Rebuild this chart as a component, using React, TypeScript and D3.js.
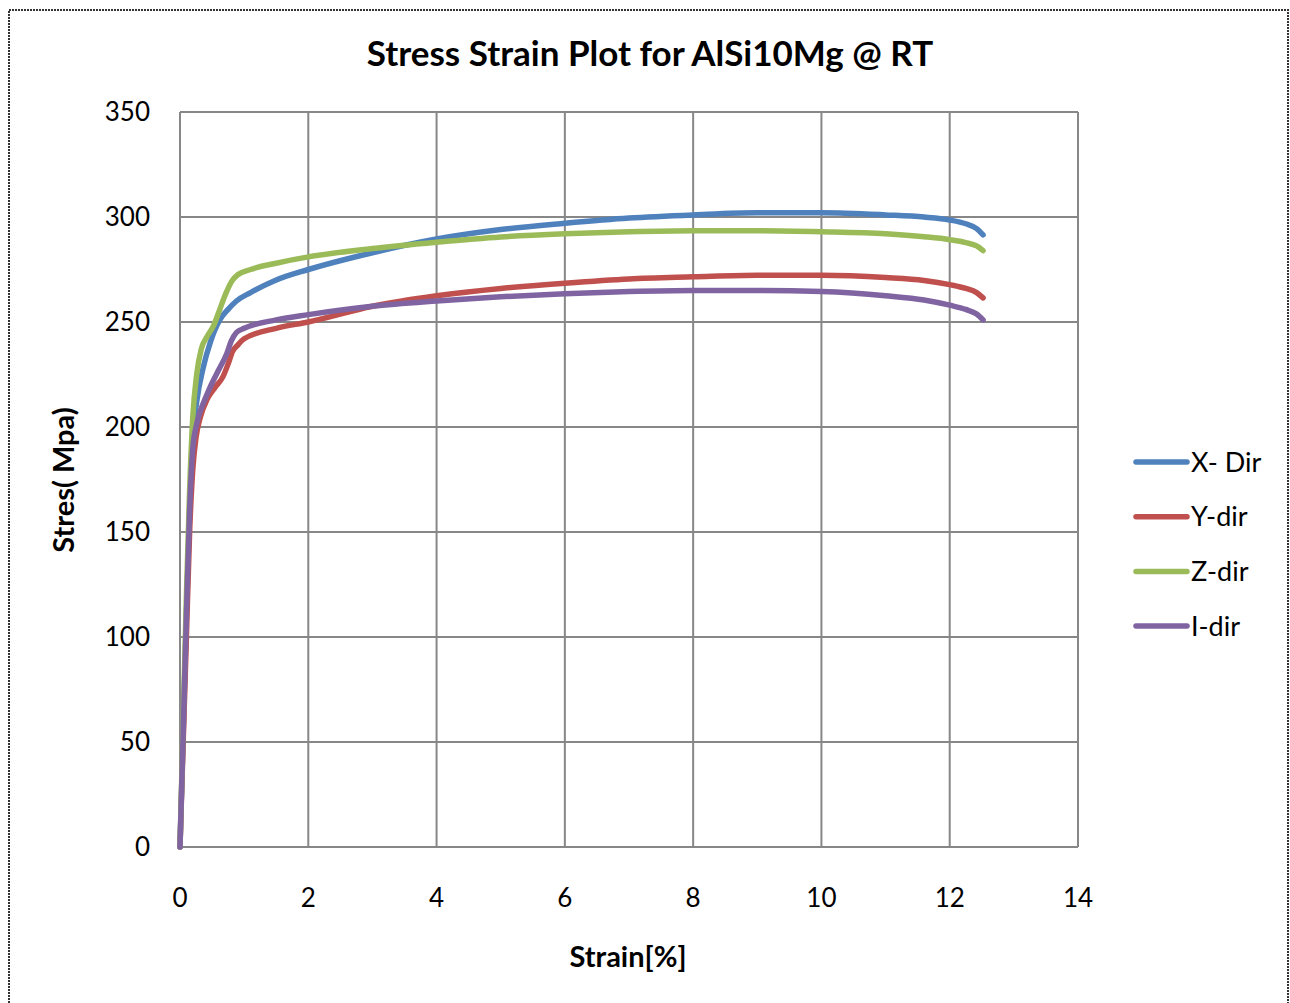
import React from 'react';
import * as d3 from 'd3';

// X- Dir
const xDirStrain = [0, 0.05, 0.1, 0.15, 0.2, 0.26, 0.36, 0.48, 0.62, 0.75, 0.88, 1.1, 1.5, 2, 3, 4, 5, 6, 7, 8, 9, 10, 11, 11.6, 12, 12.25, 12.42, 12.52];
const xDirStress = [0, 55, 110, 160, 195, 212, 228, 241, 251, 256, 260, 264, 270, 275, 283, 289.5, 294, 297, 299.5, 301, 302, 302, 301, 300, 298.6, 296.8, 294.5, 291.5];

// Y-dir
const yDirStrain = [0, 0.05, 0.1, 0.15, 0.2, 0.25, 0.32, 0.42, 0.55, 0.67, 0.75, 0.82, 0.9, 1, 1.5, 2, 3, 4, 5, 6, 7, 8, 9, 10, 11, 11.6, 12, 12.25, 12.42, 12.52];
const yDirStress = [0, 50, 100, 150, 180, 195, 205, 213, 219, 224, 230, 236, 239, 242, 247, 250, 257.5, 262.5, 266, 268.5, 270.5, 271.5, 272.3, 272.3, 271.2, 269.8, 267.8, 266, 264, 261.5];

// Z-dir
const zDirStrain = [0, 0.05, 0.1, 0.15, 0.2, 0.26, 0.33, 0.42, 0.52, 0.62, 0.72, 0.82, 0.9, 1.1, 1.5, 2, 3, 4, 5, 6, 7, 8, 9, 10, 11, 11.6, 12, 12.25, 12.42, 12.52];
const zDirStress = [0, 60, 120, 170, 205, 225, 237, 243, 248, 256, 264, 270, 272.5, 275, 278, 281, 285, 288, 290.5, 292, 293, 293.5, 293.5, 293, 292, 290.6, 289.2, 287.8, 286.2, 284];

// I-dir
const iDirStrain = [0, 0.05, 0.1, 0.15, 0.2, 0.25, 0.31, 0.4, 0.47, 0.6, 0.73, 0.8, 0.88, 1, 1.5, 2, 3, 4, 5, 6, 7, 8, 9, 10, 11, 11.6, 12, 12.25, 12.42, 12.52];
const iDirStress = [0, 55, 110, 160, 190, 200, 207, 214, 219, 227, 235, 241, 245, 247, 251, 253.5, 257.5, 260, 262, 263.5, 264.5, 265, 265, 264.5, 262.5, 260.5, 258, 256, 253.8, 251];

const seriesNames = ['X- Dir', 'Y-dir', 'Z-dir', 'I-dir'];
const seriesColors = ['#4F81BD', '#C0504D', '#9BBB59', '#8064A2'];
const xTicks = [0, 2, 4, 6, 8, 10, 12, 14];
const yTicks = [0, 50, 100, 150, 200, 250, 300, 350];

const W = 1290;
const H = 1003;
const font = 'Lato, "Open Sans", sans-serif';

const App: React.FC = () => {
  const x = d3.scaleLinear().domain([0, 14]).range([180, 1078]);
  const y = d3.scaleLinear().domain([0, 350]).range([847, 112]);

  const series = [
    { strain: xDirStrain, stress: xDirStress },
    { strain: yDirStrain, stress: yDirStress },
    { strain: zDirStrain, stress: zDirStress },
    { strain: iDirStrain, stress: iDirStress },
  ];

  const line = d3.line<[number, number]>()
    .x(d => x(d[0]))
    .y(d => y(d[1]))
    .curve(d3.curveMonotoneX);

  return (
    <div style={{ position: 'absolute', left: 0, top: 0 }}>
      <svg width={W} height={H} style={{ display: 'block', background: '#fff' }}>
        {/* outer chart border */}
        <rect x={9} y={10} width={1279} height={1010} fill="#fff" stroke="#333" strokeWidth={2} strokeDasharray="2,1" />

        {/* gridlines */}
        <g stroke="#878787" strokeWidth={2}>
          {xTicks.map(t => (
            <line key={'gx' + t} x1={x(t)} x2={x(t)} y1={y(350)} y2={y(0)} />
          ))}
          {yTicks.map(t => (
            <line key={'gy' + t} x1={x(0)} x2={x(14)} y1={y(t)} y2={y(t)} />
          ))}
        </g>

        {/* series */}
        <g fill="none" strokeWidth={5.5} strokeLinecap="round" strokeLinejoin="round">
          {series.map((s, i) => (
            <path
              key={seriesNames[i]}
              d={line(s.strain.map((v, j) => [v, s.stress[j]] as [number, number])) || ''}
              stroke={seriesColors[i]}
            />
          ))}
        </g>

        {/* tick labels */}
        <g fontFamily={font} fontSize={26} fill="#000">
          {yTicks.map(t => (
            <text key={'ly' + t} x={150} y={y(t)} dy="0.36em" textAnchor="end">{t}</text>
          ))}
          {xTicks.map(t => (
            <text key={'lx' + t} x={x(t)} y={907} textAnchor="middle">{t}</text>
          ))}
        </g>

        {/* titles */}
        <text x={650} y={66} textAnchor="middle" fontFamily={font} fontWeight="bold" fontSize={35}>
          Stress Strain Plot for AlSi10Mg @ RT
        </text>
        <text x={628} y={967} textAnchor="middle" fontFamily={font} fontWeight="bold" fontSize={29}>
          Strain[%]
        </text>
        <text transform="translate(74,480) rotate(-90)" textAnchor="middle" fontFamily={font} fontWeight="bold" fontSize={29}>
          Stres( Mpa)
        </text>

        {/* legend */}
        <g fontFamily={font} fontSize={27}>
          {seriesNames.map((n, i) => {
            const ly = 462 + i * 54.7;
            return (
              <g key={'lg' + n}>
                <line x1={1136} x2={1187} y1={ly} y2={ly} stroke={seriesColors[i]} strokeWidth={5.5} strokeLinecap="round" />
                <text x={1191} y={ly} dy="0.36em">{n}</text>
              </g>
            );
          })}
        </g>
      </svg>
    </div>
  );
};

export default App;
